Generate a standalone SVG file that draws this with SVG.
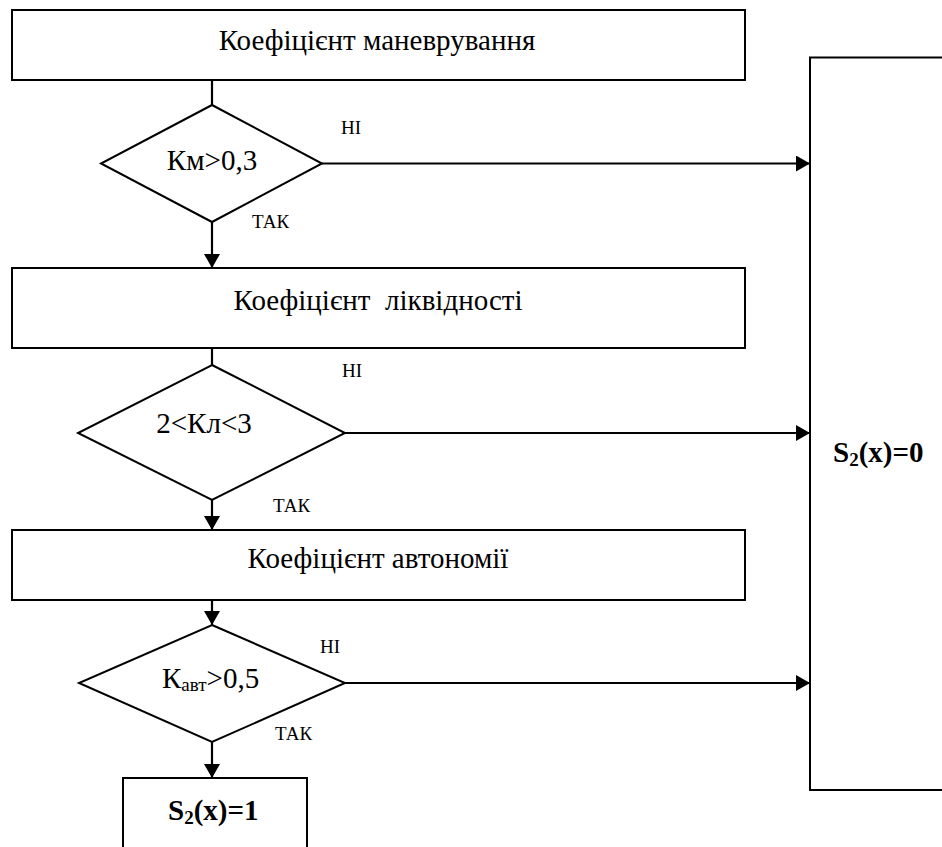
<svg xmlns="http://www.w3.org/2000/svg" width="942" height="847" viewBox="0 0 942 847">
<style>
.box{fill:#fff;stroke:#000;stroke-width:2}
.ln{fill:none;stroke:#000;stroke-width:2.2}
.t{font-family:"Liberation Serif","Times New Roman",serif;font-size:29px;fill:#000}
.s{font-family:"Liberation Serif","Times New Roman",serif;font-size:19px;fill:#000}
.b{font-family:"Liberation Serif","Times New Roman",serif;font-size:29px;font-weight:bold;fill:#000}
</style>
<defs>
<marker id="ah" markerWidth="14" markerHeight="16" refX="14" refY="8" orient="auto" markerUnits="userSpaceOnUse">
<path d="M0,0 L14,8 L0,16 Z" fill="#000"/>
</marker>
</defs>
<rect width="942" height="847" fill="#fff"/>
<g id="connectors">
<line class="ln" x1="212" y1="80" x2="212" y2="105"/>
<line class="ln" x1="212" y1="222" x2="212" y2="268" marker-end="url(#ah)"/>
<line class="ln" x1="322" y1="163.5" x2="810" y2="163.5" marker-end="url(#ah)"/>
<line class="ln" x1="212" y1="348" x2="212" y2="365"/>
<line class="ln" x1="212" y1="500" x2="212" y2="530" marker-end="url(#ah)"/>
<line class="ln" x1="345" y1="433" x2="810" y2="433" marker-end="url(#ah)"/>
<line class="ln" x1="212" y1="600" x2="212" y2="625" marker-end="url(#ah)"/>
<line class="ln" x1="212" y1="742" x2="212" y2="778" marker-end="url(#ah)"/>
<line class="ln" x1="345" y1="683" x2="810" y2="683" marker-end="url(#ah)"/>
<text class="s" x="341" y="134">НІ</text>
<text class="s" x="252" y="228">ТАК</text>
<text class="s" x="342" y="377">НІ</text>
<text class="s" x="273" y="512">ТАК</text>
<text class="s" x="320" y="653">НІ</text>
<text class="s" x="275" y="740">ТАК</text>
</g>
<g id="box1">
<rect class="box" x="12" y="10" width="733" height="70"/>
<text class="t" x="377" y="50" text-anchor="middle">Коефіцієнт маневрування</text>
</g>
<g id="dec1">
<polygon class="box" points="212,105 322,163.5 212,222 101,163.5"/>
<text class="t" x="212" y="170" text-anchor="middle">Км&gt;0,3</text>
</g>
<g id="box2">
<rect class="box" x="12" y="268" width="733" height="80"/>
<text class="t" x="378" y="310" text-anchor="middle" xml:space="preserve">Коефіцієнт  ліквідності</text>
</g>
<g id="dec2">
<polygon class="box" points="212,365 345,433 212,500 78,433"/>
<text class="t" x="204" y="433" text-anchor="middle">2&lt;Кл&lt;3</text>
</g>
<g id="box3">
<rect class="box" x="12" y="530" width="733" height="70"/>
<text class="t" x="378" y="568" text-anchor="middle">Коефіцієнт автономії</text>
</g>
<g id="dec3">
<polygon class="box" points="212,625 345,683 212,742 79,683"/>
<text class="t" x="162" y="688">К<tspan font-size="19" dy="3">авт</tspan><tspan dy="-3">&gt;0,5</tspan></text>
</g>
<g id="res1">
<rect class="box" x="123" y="778" width="184" height="100"/>
<text class="b" x="168" y="820">S<tspan font-size="19" dy="4">2</tspan><tspan dy="-4">(x)=1</tspan></text>
</g>
<g id="res0">
<rect class="box" x="810" y="57.5" width="200" height="732.5"/>
<text class="b" x="833" y="462">S<tspan font-size="19" dy="4">2</tspan><tspan dy="-4">(x)=0</tspan></text>
</g>
</svg>
